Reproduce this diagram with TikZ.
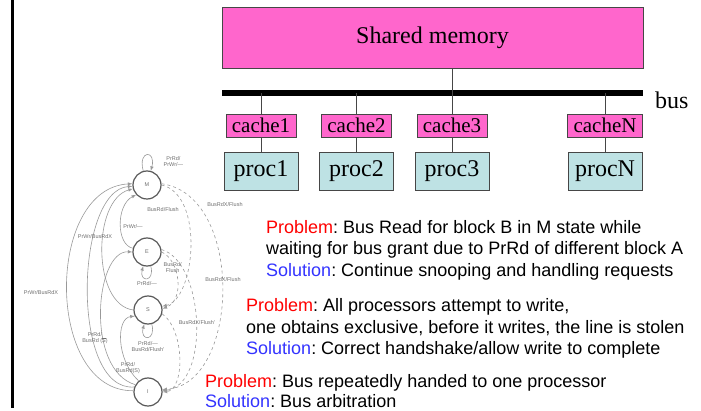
\documentclass[tikz,border=0pt]{standalone}
\usepackage{fontspec}
\setmainfont{Liberation Serif}
\setsansfont{Liberation Sans}
\usepackage{amsmath}
\usepackage{xcolor}
\usepackage{tikz}
\definecolor{mempink}{RGB}{255,102,204}
\definecolor{proccyan}{RGB}{190,226,228}
\definecolor{probred}{RGB}{255,0,0}
\definecolor{solblue}{RGB}{51,51,255}
\definecolor{edgegray}{RGB}{70,70,70}
\definecolor{fsmgray}{RGB}{110,110,110}

\begin{document}
\begin{tikzpicture}[x=1pt,y=1pt,>=latex,
% common options for the memory system:
memblock/.style = {draw=edgegray, fill=mempink, font=\fontsize{24}{24}\selectfont,
            minimum width=421pt, minimum height=61pt, inner sep=0},
cacheblock/.style = {draw=edgegray, fill=mempink, font=\fontsize{21}{21}\selectfont,
            minimum height=23pt, inner xsep=6pt, inner ysep=0},
procblock/.style = {draw=edgegray, fill=proccyan, font=\fontsize{24}{24}\selectfont,
            minimum width=74pt, minimum height=38pt, inner sep=0},
wire/.style = {draw=edgegray, line width=0.8pt},
% common options for the state machine:
state/.style = {circle, draw=fsmgray!80!black, line width=1.2pt, minimum size=28pt,
            inner sep=0, font=\fontsize{5.5}{5.5}\selectfont\sffamily, text=fsmgray},
tr/.style = {->, draw=fsmgray!70, line width=0.6pt},
snoop/.style = {tr, dashed},
lbl/.style = {font=\fontsize{5.5}{6}\selectfont\sffamily, text=fsmgray, align=center, inner sep=0.5pt},
% common options for the notes:
note/.style = {font=\sffamily\fontsize{18}{21.5}\selectfont\frenchspacing, align=left,
            anchor=north west, inner sep=0}]
\useasboundingbox (0,0) rectangle (701,-411);
\draw[line width=3pt] (12.5,0) -- (12.5,-408);
% memory, bus, caches and processors
\node[memblock] (mem) at (432.5,-37.5) {Shared memory};
\coordinate (busL) at (222,-93);
\coordinate (busR) at (643,-93);
\draw[line width=5.5pt] (busL) -- (busR);
\node[anchor=west, inner sep=0, font=\fontsize{24}{24}\selectfont] (buslbl) at (655,-100) {bus};
\node[cacheblock] (c1) at (261,-125.5) {cache1};
\node[cacheblock] (c2) at (356.5,-125.5) {cache2};
\node[cacheblock] (c3) at (452,-125.5) {cache3};
\node[cacheblock] (cN) at (605,-125.5) {cacheN};
\node[procblock] (p1) at (261,-171) {proc1};
\node[procblock] (p2) at (356.5,-171) {proc2};
\node[procblock] (p3) at (452,-171) {proc3};
\node[procblock] (pN) at (605,-171) {procN};
\draw[wire] (c1.north) -- (c1.north |- busL);
\draw[wire] (c2.north) -- (c2.north |- busL);
\draw[wire] (c3.north) -- (c3.north |- mem.south);
\draw[wire] (cN.north) -- (cN.north |- busL);
\draw[wire] (c1) -- (p1);
\draw[wire] (c2) -- (p2);
\draw[wire] (c3) -- (p3);
\draw[wire] (cN) -- (pN);
% MESI state machine
\node[state] (M) at (147,-185) {M};
\node[state] (E) at (147,-252) {E};
\node[state] (S) at (148,-310) {S};
\node[state] (I) at (148,-392) {I};
\path (M) edge[tr, loop above, min distance=22pt] (M);
\path (E) edge[tr, loop below, min distance=17pt] (E);
\path (S) edge[tr, loop below, min distance=18pt] (S);
\draw[tr] (I.175) .. controls (45,-392) and (45,-188) .. (M.175);
\draw[tr] (I.160) .. controls (70,-392) and (75,-190) .. (M.185);
\draw[tr] (S.180) .. controls (92,-305) and (92,-200) .. (M.195);
\draw[tr] (E.165) .. controls (116,-245) and (116,-205) .. (M.222);
\draw[tr] (I.150) .. controls (85,-370) and (95,-250) .. (E.180);
\draw[tr] (I.130) .. controls (116,-360) and (116,-318) .. (S.205);
\draw[snoop] (M.0) .. controls (205,-195) and (195,-300) .. (S.15);
\draw[snoop] (M.5) .. controls (245,-195) and (240,-385) .. (I.10);
\draw[snoop] (E.0) .. controls (180,-260) and (185,-300) .. (S.5);
\draw[snoop] (E.10) .. controls (205,-262) and (210,-385) .. (I.5);
\draw[snoop] (S.-15) .. controls (185,-330) and (185,-390) .. (I.0);
\node[lbl, anchor=west] (lMloop) at (163,-161.5) {PrRd/\\PrWr/—};
\node[lbl, anchor=west] (lEtoS) at (163,-268) {BusRd/\\Flush};
\node[lbl] (lEloop) at (147,-284) {PrRd/—};
\node[lbl] (lSloop) at (148,-347) {PrRd/—\\BusRd/Flush'};
\node[lbl] (lMtoS) at (163,-210) {BusRd/Flush};
\node[lbl] (lMtoI) at (225,-205) {BusRdX/Flush};
\node[lbl] (lEtoI) at (223,-280) {BusRdX/Flush};
\node[lbl] (lStoI) at (197,-323) {BusRdX/Flush'};
\node[lbl] (lItoM) at (41,-293) {PrWr/BusRdX};
\node[lbl] (lStoM) at (95,-237) {PrWr/BusRdX};
\node[lbl] (lEtoM) at (133,-227) {PrWr/—};
\node[lbl] (lItoE) at (95,-338) {PrRd/\\BusRd ($\overline{\text{S}}$)};
\node[lbl] (lItoS) at (128,-368) {PrRd/\\BusRd(S)};
% problems and solutions
\node[note] (note1) at (266,-220) {\textcolor{probred}{Problem}: Bus Read for block B in M state while\\
waiting for bus grant due to PrRd of different block A\\
\textcolor{solblue}{Solution}: Continue snooping and handling requests};
\node[note] (note2) at (246,-298.5) {\textcolor{probred}{Problem}: All processors attempt to write,\\
one obtains exclusive, before it writes, the line is stolen\\
\textcolor{solblue}{Solution}: Correct handshake/allow write to complete};
\node[note, font=\sffamily\fontsize{18}{20}\selectfont\frenchspacing] (note3) at (205,-374.5)
  {\textcolor{probred}{Problem}: Bus repeatedly handed to one processor\\
\textcolor{solblue}{Solution}: Bus arbitration};
\end{tikzpicture}
\end{document}
